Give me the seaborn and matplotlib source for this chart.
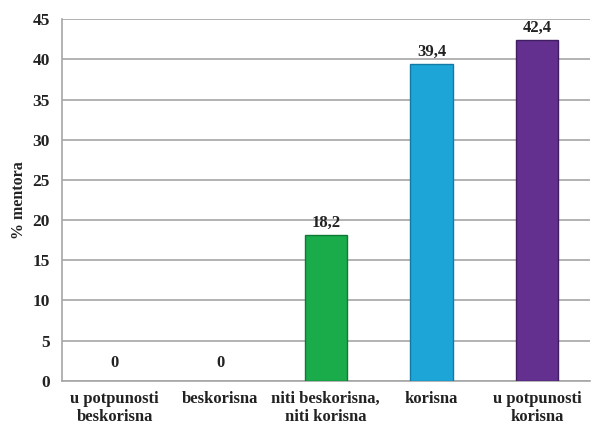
import matplotlib
matplotlib.use("Agg")
import matplotlib.pyplot as plt
import seaborn as sns
import numpy as np
import pandas as pd

# ── Data ──────────────────────────────────────────────────────────────────
categories = ["u potpunosti\nbeskorisna", "beskorisna", "niti beskorisna,\nniti korisna",
              "korisna", "u potpunosti\nkorisna"]
values = [0, 0, 18.2, 39.4, 42.4]
colors = ["#1aab4b", "#1aab4b", "#1aab4b", "#1ea5d8", "#63308f"]
edges = ["#0f7a33", "#0f7a33", "#0f7a33", "#137aa3", "#3f1d60"]
y_ticks = list(range(0, 50, 5))

df = pd.DataFrame({"kategorija": categories, "posto": values})

# ── Style ─────────────────────────────────────────────────────────────────
sns.set_style("white")
plt.rcParams["font.family"] = ["Liberation Serif", "DejaVu Serif"]

fig = plt.figure(figsize=(5.94, 4.26), dpi=100)
ax = fig.add_axes([0.104, 0.106, 0.889, 0.849])

sns.barplot(data=df, x="kategorija", y="posto", hue="kategorija", palette=colors,
            legend=False, width=0.4, saturation=1, ax=ax, zorder=3)
for patch, ec, v in zip(ax.patches, edges, values):
    patch.set_edgecolor(ec)
    patch.set_linewidth(1.0 if v else 0)

# value labels
for i, v in enumerate(values):
    ax.annotate(f"{v:g}".replace(".", ","), (i, v), xytext=(0, 3 if v else 7),
                textcoords="offset points", ha="center", va="bottom",
                fontsize=12, fontweight="bold", color="#222222")

ax.set_ylim(0, 45)
ax.set_xlim(-0.5, 4.5)
ax.set_yticks(y_ticks)
ax.yaxis.grid(True, color="#a6a6a6", linewidth=1.2, zorder=0)
ax.set_axisbelow(True)

ax.set_xticks(range(len(categories)))
ax.set_xticklabels(categories, fontsize=12, fontweight="bold", color="#222222",
                   linespacing=1.2)
ax.set_xticks(np.arange(0.5, 4.5, 1.0), minor=True)
ax.tick_params(axis="x", which="major", length=0, pad=7)
ax.tick_params(axis="x", which="minor", length=5, color="#a6a6a6", width=1.2,
               direction="out")
ax.tick_params(axis="y", length=5, color="#a6a6a6", width=1.2, direction="out",
               labelsize=12.5, labelcolor="#222222")
for lab in ax.get_yticklabels():
    lab.set_fontweight("bold")

ax.set_xlabel("")
ax.set_ylabel("% mentora", fontsize=11.5, fontweight="bold", color="#222222", labelpad=4)

for side in ["top", "right"]:
    ax.spines[side].set_visible(False)
for side in ["left", "bottom"]:
    ax.spines[side].set_color("#a6a6a6")
    ax.spines[side].set_linewidth(1.2)

fig.savefig("out.png", dpi=100)
